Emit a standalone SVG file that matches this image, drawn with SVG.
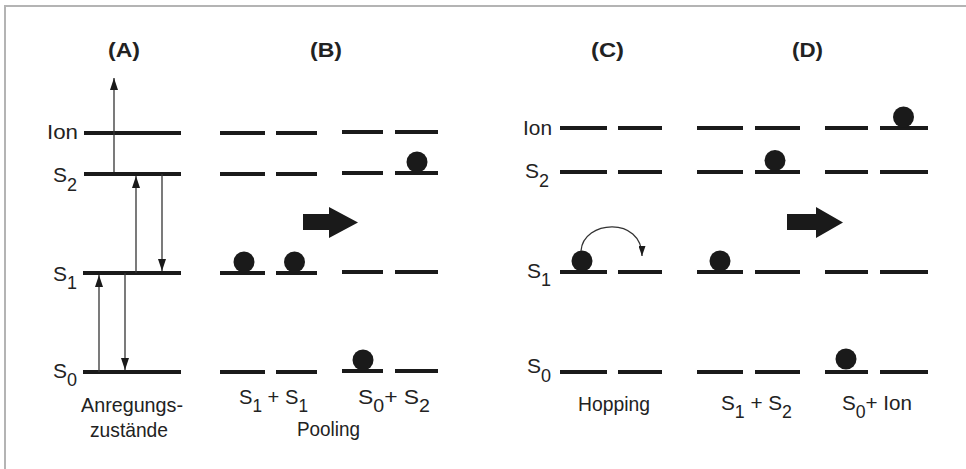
<svg xmlns="http://www.w3.org/2000/svg" width="966" height="469" viewBox="0 0 966 469">
<style>
.lv{stroke:#1a1a1a;stroke-width:4;fill:none}
.ball{fill:#1a1a1a}
.t{font-family:"Liberation Sans",Arial,sans-serif;font-size:21px;fill:#222}
.ttl{font-family:"Liberation Sans",Arial,sans-serif;font-size:21px;font-weight:bold;fill:#222}
.sub{font-size:18px}
.ar{stroke:#333;stroke-width:1.3;fill:none;marker-end:url(#ah)}
.blk{fill:#1a1a1a}
.frame{stroke:#b4b4b4;stroke-width:2;fill:none}
</style>
<defs>
<marker id="ah" markerUnits="userSpaceOnUse" markerWidth="12" markerHeight="8" refX="12" refY="4" orient="auto">
<path d="M0,0 L12,4 L0,8 z" fill="#1a1a1a"/>
</marker>
<marker id="ah2" markerUnits="userSpaceOnUse" markerWidth="10" markerHeight="7" refX="10" refY="3.5" orient="auto">
<path d="M0,0 L10,3.5 L0,7 z" fill="#1a1a1a"/>
</marker>
</defs>
<path class="frame" d="M5,469 V6 H966"/>

<g id="titles">
<text class="ttl" x="108" y="57" textLength="32" lengthAdjust="spacingAndGlyphs">(A)</text>
<text class="ttl" x="310" y="57" textLength="32" lengthAdjust="spacingAndGlyphs">(B)</text>
<text class="ttl" x="591" y="57" textLength="33" lengthAdjust="spacingAndGlyphs">(C)</text>
<text class="ttl" x="792" y="57" textLength="31" lengthAdjust="spacingAndGlyphs">(D)</text>
</g>

<g id="panelA">
<g id="A-levels">
<line class="lv" x1="84" y1="133" x2="181" y2="133"/>
<line class="lv" x1="84" y1="174" x2="181" y2="174"/>
<line class="lv" x1="83" y1="273" x2="181" y2="273"/>
<line class="lv" x1="83" y1="372" x2="181" y2="372"/>
</g>
<g id="A-labels">
<text class="t" x="47" y="139" textLength="31" lengthAdjust="spacingAndGlyphs">Ion</text>
<text class="t" x="53" y="182">S<tspan class="sub" dy="9">2</tspan></text>
<text class="t" x="53" y="281">S<tspan class="sub" dy="8">1</tspan></text>
<text class="t" x="53" y="378">S<tspan class="sub" dy="8">0</tspan></text>
<text class="t" x="81" y="412" textLength="102" lengthAdjust="spacingAndGlyphs">Anregungs-</text>
<text class="t" x="90" y="437" textLength="78" lengthAdjust="spacingAndGlyphs">zustände</text>
</g>
</g>

<g id="panelB">
<g id="B-levels">
<line class="lv" x1="220" y1="133" x2="265" y2="133"/>
<line class="lv" x1="276" y1="133" x2="317" y2="133"/>
<line class="lv" x1="342" y1="132" x2="383" y2="132"/>
<line class="lv" x1="395" y1="132" x2="438" y2="132"/>
<line class="lv" x1="220" y1="174" x2="265" y2="174"/>
<line class="lv" x1="276" y1="174" x2="317" y2="174"/>
<line class="lv" x1="342" y1="173" x2="383" y2="173"/>
<line class="lv" x1="395" y1="173" x2="438" y2="173"/>
<line class="lv" x1="220" y1="273" x2="265" y2="273"/>
<line class="lv" x1="276" y1="273" x2="317" y2="273"/>
<line class="lv" x1="342" y1="272" x2="383" y2="272"/>
<line class="lv" x1="395" y1="272" x2="438" y2="272"/>
<line class="lv" x1="220" y1="372" x2="265" y2="372"/>
<line class="lv" x1="276" y1="372" x2="317" y2="372"/>
<line class="lv" x1="342" y1="371" x2="383" y2="371"/>
<line class="lv" x1="395" y1="371" x2="438" y2="371"/>
</g>
<g id="B-balls">
<circle class="ball" cx="417" cy="162" r="10.5"/>
<circle class="ball" cx="244" cy="262" r="10.5"/>
<circle class="ball" cx="294.5" cy="262" r="10.5"/>
<circle class="ball" cx="363" cy="360" r="10.5"/>
</g>
<g id="B-labels">
<text class="t" x="239" y="404" textLength="69" lengthAdjust="spacingAndGlyphs">S<tspan class="sub" dy="8">1</tspan><tspan dy="-8"> + S</tspan><tspan class="sub" dy="8">1</tspan></text>
<text class="t" x="358" y="404" textLength="72" lengthAdjust="spacingAndGlyphs">S<tspan class="sub" dy="8">0</tspan><tspan dy="-8">+ S</tspan><tspan class="sub" dy="8">2</tspan></text>
<text class="t" x="297" y="436" textLength="63" lengthAdjust="spacingAndGlyphs">Pooling</text>
</g>
</g>

<g id="panelC">
<g id="C-levels">
<line class="lv" x1="560" y1="128" x2="607" y2="128"/>
<line class="lv" x1="618" y1="128" x2="662" y2="128"/>
<line class="lv" x1="560" y1="172" x2="607" y2="172"/>
<line class="lv" x1="618" y1="172" x2="662" y2="172"/>
<line class="lv" x1="560" y1="272" x2="607" y2="272"/>
<line class="lv" x1="618" y1="272" x2="662" y2="272"/>
<line class="lv" x1="560" y1="372" x2="607" y2="372"/>
<line class="lv" x1="618" y1="372" x2="662" y2="372"/>
</g>
<g id="C-balls">
<circle class="ball" cx="582" cy="261" r="10.5"/>
</g>
<g id="C-labels">
<text class="t" x="523" y="135" textLength="29" lengthAdjust="spacingAndGlyphs">Ion</text>
<text class="t" x="525" y="178">S<tspan class="sub" dy="9">2</tspan></text>
<text class="t" x="527" y="278">S<tspan class="sub" dy="8">1</tspan></text>
<text class="t" x="527" y="373">S<tspan class="sub" dy="9">0</tspan></text>
<text class="t" x="578" y="411" textLength="72" lengthAdjust="spacingAndGlyphs">Hopping</text>
</g>
</g>

<g id="panelD">
<g id="D-levels">
<line class="lv" x1="697" y1="128" x2="743" y2="128"/>
<line class="lv" x1="755" y1="128" x2="800" y2="128"/>
<line class="lv" x1="825" y1="128" x2="868" y2="128"/>
<line class="lv" x1="880" y1="128" x2="928" y2="128"/>
<line class="lv" x1="697" y1="172" x2="743" y2="172"/>
<line class="lv" x1="755" y1="172" x2="800" y2="172"/>
<line class="lv" x1="825" y1="172" x2="868" y2="172"/>
<line class="lv" x1="880" y1="172" x2="928" y2="172"/>
<line class="lv" x1="697" y1="272" x2="743" y2="272"/>
<line class="lv" x1="755" y1="272" x2="800" y2="272"/>
<line class="lv" x1="825" y1="272" x2="868" y2="272"/>
<line class="lv" x1="880" y1="272" x2="928" y2="272"/>
<line class="lv" x1="697" y1="372" x2="743" y2="372"/>
<line class="lv" x1="755" y1="372" x2="800" y2="372"/>
<line class="lv" x1="825" y1="372" x2="868" y2="372"/>
<line class="lv" x1="880" y1="372" x2="928" y2="372"/>
</g>
<g id="D-balls">
<circle class="ball" cx="775" cy="160.5" r="10.5"/>
<circle class="ball" cx="903.5" cy="117" r="10.5"/>
<circle class="ball" cx="720" cy="261" r="10.5"/>
<circle class="ball" cx="846" cy="359" r="10.5"/>
</g>
<g id="D-labels">
<text class="t" x="721" y="410" textLength="71" lengthAdjust="spacingAndGlyphs">S<tspan class="sub" dy="8">1</tspan><tspan dy="-8"> + S</tspan><tspan class="sub" dy="8">2</tspan></text>
<text class="t" x="842" y="410" textLength="70" lengthAdjust="spacingAndGlyphs">S<tspan class="sub" dy="8">0</tspan><tspan dy="-8">+ Ion</tspan></text>
</g>
</g>

<g id="connectors">
<line class="ar" x1="114" y1="172" x2="114" y2="78"/>
<line class="ar" x1="136" y1="273" x2="136" y2="176"/>
<line class="ar" x1="162" y1="174" x2="162" y2="271"/>
<line class="ar" x1="99" y1="372" x2="99" y2="275"/>
<line class="ar" x1="125" y1="273" x2="125" y2="370"/>
<path d="M581,251 C583,220 642,216 642,256" stroke="#333" stroke-width="1.3" fill="none" marker-end="url(#ah2)"/>
<polygon class="blk" points="303,214 329,214 329,207 358,222.5 329,238 329,230 303,230"/>
<polygon class="blk" points="787,214 816,214 816,207 843,222.5 816,238 816,230 787,230"/>
</g>
</svg>
